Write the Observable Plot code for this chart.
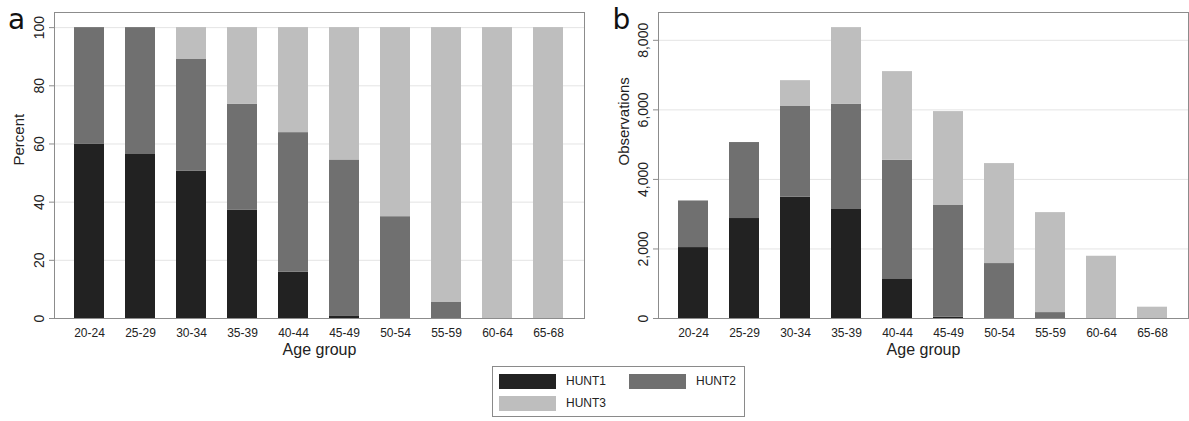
<!DOCTYPE html>
<html>
<head>
<meta charset="utf-8">
<script src="https://cdn.jsdelivr.net/npm/d3@7"></script>
<script src="https://cdn.jsdelivr.net/npm/@observablehq/plot@0.6"></script>
<style>
  html, body { margin: 0; padding: 0; background: #fff; }
  #wrap { position: relative; width: 1189px; height: 421px; font-family: "Liberation Sans", Arial, sans-serif; }
  .panel { position: absolute; top: 0; }
  #legend { position: absolute; left: 492px; top: 366px; width: 251px; height: 49px; border: 1px solid #8a8a8a; font-size: 12px; color: #222; }
  .sw { position: absolute; width: 57px; height: 15px; }
  .lt { position: absolute; line-height: 15px; }
</style>
</head>
<body>
<div id="wrap">
  <div id="pa" class="panel" style="left:0px"></div>
  <div id="pb" class="panel" style="left:594px"></div>
  <div id="legend"></div>
</div>
<script>
const ages = ["20-24","25-29","30-34","35-39","40-44","45-49","50-54","55-59","60-64","65-68"];
const series = ["HUNT1","HUNT2","HUNT3"];
const colors = ["#222222","#707070","#bebebe"];

// Panel a: percent
const pctHunt1 = [60.0, 56.6, 50.7, 37.3, 15.9, 0.7, 0, 0, 0, 0];
const pctHunt2 = [40.0, 43.4, 38.5, 36.3, 48.0, 53.8, 35.0, 5.5, 0, 0];
const pctHunt3 = [0, 0, 10.8, 26.4, 36.1, 45.5, 65.0, 94.5, 100, 100];

// Panel b: observations
const obsHunt1 = [2040, 2875, 3490, 3135, 1140, 40, 0, 0, 0, 0];
const obsHunt2 = [1340, 2185, 2620, 3030, 3410, 3210, 1580, 170, 0, 0];
const obsHunt3 = [0, 0, 730, 2200, 2550, 2700, 2875, 2875, 1790, 325];

const pctTicks = [0, 20, 40, 60, 80, 100];
const obsTicks = [0, 2000, 4000, 6000, 8000];

function toRows(arrs) {
  const rows = [];
  series.forEach((s, i) => ages.forEach((a, j) => rows.push({age: a, series: s, value: arrs[i][j]})));
  return rows;
}

function panel({rows, yDomain, ticks, tickFormat, yLabel, letter, width, marginLeft, marginRight, labelDx, letterDx}) {
  return Plot.plot({
    width, height: 362,
    marginLeft, marginRight, marginTop: 12, marginBottom: 44,
    style: {fontFamily: "'Liberation Sans', Arial, sans-serif", color: "#222", background: "transparent"},
    x: {type: "band", domain: ages, paddingInner: 0.41, paddingOuter: 0.4},
    y: {domain: yDomain},
    color: {domain: series, range: colors},
    marks: [
      Plot.gridY(ticks, {stroke: "#e4e4e4", strokeOpacity: 1, strokeWidth: 1}),
      Plot.barY(rows, {x: "age", y: "value", fill: "series"}),
      Plot.frame({stroke: "#8c8c8c", strokeWidth: 1}),
      Plot.axisY({ticks, tickFormat, tickSize: 5, tickRotate: -90, tickPadding: 6, fontSize: 14, label: null, stroke: "#8c8c8c"}),
      Plot.axisX({tickSize: 0, tickPadding: 10, fontSize: 12, label: null}),
      Plot.text(["Age group"], {frameAnchor: "bottom", dy: 36, lineAnchor: "bottom", fontSize: 16, fill: "#222"}),
      Plot.text([yLabel], {frameAnchor: "left", rotate: -90, dx: labelDx, lineAnchor: "middle", fontSize: 15, fill: "#222"}),
      Plot.text([letter], {frameAnchor: "top-left", dx: letterDx, dy: 8, lineAnchor: "middle", textAnchor: "middle", fontSize: 28, fontFamily: "DejaVu Sans", fill: "#111"})
    ]
  });
}

document.getElementById("pa").append(panel({
  rows: toRows([pctHunt1, pctHunt2, pctHunt3]),
  yDomain: [0, 105.2], ticks: pctTicks, tickFormat: d => String(d),
  yLabel: "Percent", letter: "a", width: 594, marginLeft: 54, marginRight: 10, labelDx: -35, letterDx: -38
}));
document.getElementById("pb").append(panel({
  rows: toRows([obsHunt1, obsHunt2, obsHunt3]),
  yDomain: [0, 8800], ticks: obsTicks, tickFormat: d3.format(","),
  yLabel: "Observations", letter: "b", width: 595, marginLeft: 64, marginRight: 1, labelDx: -34, letterDx: -37
}));

// Legend
const legend = document.getElementById("legend");
const pos = [[6, 7], [136, 7], [6, 29]];
series.forEach((s, i) => {
  const sw = document.createElement("div");
  sw.className = "sw";
  sw.style.left = pos[i][0] + "px";
  sw.style.top = pos[i][1] + "px";
  sw.style.background = colors[i];
  legend.append(sw);
  const t = document.createElement("div");
  t.className = "lt";
  t.style.left = (pos[i][0] + 67) + "px";
  t.style.top = pos[i][1] + "px";
  t.textContent = s;
  legend.append(t);
});
</script>
</body>
</html>
